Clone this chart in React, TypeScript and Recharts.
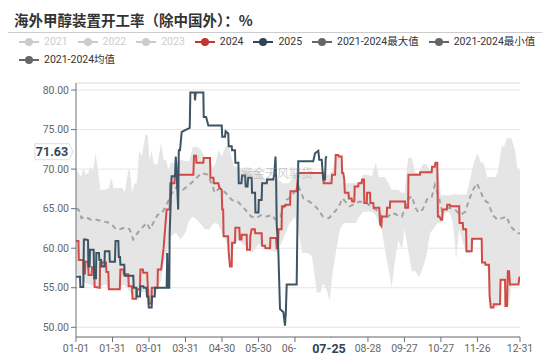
import React from 'react'
import { Area, CartesianGrid, ComposedChart, Line, ReferenceLine, XAxis, YAxis } from 'recharts'

const title = '海外甲醇装置开工率（除中国外）：%'
const legendNames = ['2021', '2022', '2023', '2024', '2025', '2021-2024最大值', '2021-2024最小值', '2021-2024均值']
const legendColors = ['#ccc', '#ccc', '#ccc', '#c23531', '#2f4554', '#666', '#666', '#666']
const legendOff = [true, true, true, false, false, false, false, false]

const tickDays = [0, 30, 60, 90, 120, 150, 180, 210, 240, 270, 300, 330, 365]
const tickLabels = ['01-01', '01-31', '03-01', '03-31', '04-30', '05-30', '06-29', '07-29', '08-28', '09-27', '10-27', '11-26', '12-31']
const yTicks = [50, 55, 60, 65, 70, 75, 80]
const yMin = 48.77
const yMax = 80.89
const dayMax = 365
// hover label of the chart: 2025 last point, its date covers the 07-29 tick
const pointerTick = 210
const pointerDate = '07-25'
const pointerValue = 71.63
const watermark = '紫金天风期货'

// [day of year, rate]
const line2024: [number, number][] = [
  [0, 60.9], [2, 60.9], [2.3, 58.5], [6, 58.5], [6.3, 56.8], [7.4, 56.8], [7.7, 58.3], [10, 58.3], [10.3, 56.6], [12.9, 56.6],
  [13.2, 57.6], [15, 57.6], [15.3, 55.1], [19.5, 55], [19.8, 58.2], [24.7, 58.2], [25, 57], [26.6, 57], [27, 54.8], [36, 54.8],
  [36.5, 57.3], [39, 57.3], [39.3, 56.7], [43, 56.7], [43.3, 55.2], [46, 55.2], [46.5, 53.6], [49.5, 53.6], [50, 54.8], [52.5, 54.8],
  [53, 57.3], [55, 57.3], [55.3, 56.9], [58.5, 56.9], [59, 55.2], [59.8, 53], [62, 53], [62.3, 55], [67, 55], [67.3, 57.3],
  [70, 57.3], [72, 60], [74.5, 64.9], [77, 64.9], [77.5, 68.2], [81, 68.2], [81.3, 69.3], [96.5, 69.3], [97, 71.7], [98.7, 71.7],
  [99, 70.8], [104.7, 70.8], [105, 71.4], [110.2, 71.4], [110.5, 68.9], [113, 68.9], [113.3, 68.2], [117, 68.2], [118, 67.6], [119.8, 67.4],
  [120.2, 64.9], [121, 64.9], [121.3, 61.5], [125, 61.5], [125.5, 59.5], [126.6, 57.7], [128, 57.7], [128.3, 60.7], [130.7, 60.7], [131, 62.6],
  [134.3, 62.6], [134.6, 61.1], [136, 61.1], [136.3, 61.7], [140.3, 61.7], [140.6, 59.8], [143, 59.8], [143.3, 61.5], [144.4, 62.4], [147, 62.4],
  [147.3, 61.9], [152.6, 61.9], [153, 60.3], [155.4, 60.3], [155.7, 60], [159.5, 60], [159.8, 61.3], [164.5, 61.3], [165, 60], [166, 60],
  [166.5, 62.4], [169, 62.4], [169.3, 65.3], [172, 65.3], [172.5, 65.5], [176, 65.5], [176.3, 67.2], [181.4, 67.2], [182.7, 69.5], [203.3, 69.5],
  [203.6, 68.2], [210, 68.2], [210.5, 69.3], [213, 69.3], [213.5, 71.8], [215.6, 71.8], [216, 71.6], [218.4, 71.6], [218.8, 69.5], [219.7, 69.5],
  [220.5, 68.7], [221, 67], [224, 67], [224.3, 66.3], [226.6, 66.3], [227, 65.9], [228.8, 65.9], [229.1, 67.8], [232, 67.8], [232.3, 68.2],
  [234.8, 68.2], [235.2, 68.7], [236.7, 68.7], [237, 65.7], [239, 65.7], [239.3, 67], [241.7, 67], [242, 65.7], [244.4, 65.7], [244.7, 65.1],
  [249.3, 65.1], [250, 63], [251, 62.8], [251.5, 64], [255.4, 64], [255.7, 65.1], [258, 65.1], [258.3, 65.9], [270.5, 65.9], [270.8, 65.1],
  [273, 65.1], [273.3, 69.3], [282.8, 69.3], [283, 69.6], [292.4, 69.6], [292.7, 70.3], [295, 70.3], [295.5, 70.8], [297, 70.8], [297.5, 64],
  [298.7, 64], [300, 63.6], [301, 63.6], [301.5, 64.9], [304.8, 64.9], [305.2, 65.5], [307.3, 65.5], [307.6, 65.3], [315, 65.3], [315.3, 63.2],
  [318, 63.2], [318.3, 62.4], [320.7, 62.4], [321, 59.6], [325.3, 59.6], [325.6, 61.2], [333.5, 61.2], [333.8, 58.2], [336.3, 58.2], [336.6, 57.9],
  [339.5, 57.9], [340, 54], [341, 52.5], [343.1, 52.5], [343.4, 52.9], [348.6, 52.9], [349, 56], [352.7, 56], [353, 52.7], [354.3, 52.7],
  [355, 57.1], [356, 57.1], [356.8, 55.4], [363.7, 55.4], [364.5, 56.3], [365, 56.3],
]

const line2025: [number, number][] = [
  [0, 56.4], [3.3, 56.4], [3.6, 55.1], [6, 55.1], [6.5, 61.1], [8.2, 61.1], [9.9, 61], [10.2, 57.7], [11.2, 57.7], [11.5, 59.8],
  [14.5, 59.8], [15, 56.2], [16.4, 56.2], [16.7, 59.4], [18.9, 59.4], [19.2, 58.5], [20.7, 58.5], [21, 57.7], [23.4, 57.7], [23.7, 59.6],
  [27.5, 59.6], [27.8, 58.3], [32, 58.3], [32.5, 60.9], [34.8, 60.9], [35.2, 58.9], [36.2, 58.9], [36.5, 57.9], [39.7, 57.9], [40, 56.5],
  [47.1, 56.5], [47.5, 55], [49.6, 55], [50, 53.9], [52.6, 53.9], [53, 55.2], [55.4, 55.2], [55.7, 55], [58, 55], [58.3, 53.9],
  [59.5, 53.9], [59.8, 52.5], [62.2, 52.5], [62.5, 53.9], [64.7, 53.9], [65, 55], [74.5, 55], [75, 59.4], [75.5, 55], [76.7, 55],
  [77, 61.9], [78.6, 69.1], [81.4, 69.1], [82, 71.6], [82.5, 70.3], [84, 64.9], [84.5, 72.4], [85.5, 72.4], [86.9, 74.7], [93.5, 75.2],
  [94, 79.7], [97.5, 79.7], [97.8, 78.7], [98.5, 79.7], [104.7, 79.7], [105, 76.6], [107, 76.6], [108.8, 75.5], [119.8, 75.5], [120.2, 74.1],
  [122.5, 74.1], [123, 74.8], [125.2, 74.5], [125.5, 72.9], [128, 72.9], [128.3, 72.4], [130.7, 72.4], [131, 70.8], [133.5, 70.8], [133.8, 68.2],
  [136, 68.2], [136.5, 69.2], [139, 69.2], [139.5, 67.8], [141, 67.8], [141.5, 68.9], [144.4, 68.9], [144.7, 67], [147.2, 67], [147.5, 64.5],
  [150, 64.5], [150.3, 66.1], [152.6, 66.1], [153, 68.2], [156.8, 68.2], [157.1, 68.7], [162.2, 68.7], [163, 69.3], [164, 71.6], [164.5, 69],
  [165, 63], [166.3, 59.8], [167.7, 52.3], [170.5, 51.9], [171.8, 50.2], [172.5, 51.9], [173.2, 55.4], [181.4, 55.4], [182.7, 71], [195, 71],
  [196.5, 72], [199.2, 72.3], [200, 71.2], [202, 71.2], [202.5, 70.1], [203.3, 68.7], [204.7, 68.7], [205.3, 71.4], [206, 71.63],
]

const lineMean: [number, number][] = [
  [0, 65], [2, 64.9], [4.5, 63.8], [7.5, 64], [12, 63.6], [17, 63.6], [22, 63.4], [28, 63.2], [33, 62.4], [36, 62.4],
  [40, 62.6], [44, 62.4], [47, 61.1], [50.5, 61.9], [54.5, 62.6], [58, 63.2], [61, 62.4], [63.5, 63.2], [67, 64.2], [71, 64.5],
  [75, 65.7], [79, 67], [83, 67.8], [88, 67.4], [93, 68], [98, 68.7], [103, 69.5], [108, 69.3], [111.5, 68.2], [114, 67],
  [118, 67.6], [123, 67], [128, 66.1], [133, 65.9], [139, 64.9], [144, 64], [148, 63.8], [152.5, 64.2], [157, 64], [161, 64.2],
  [164, 63.6], [168, 64], [173, 66.1], [177, 66.5], [179, 67], [183, 67.8], [187, 66.3], [192, 65.9], [198, 65.1], [203, 64],
  [208, 63.8], [212, 64.5], [215.5, 65.1], [219, 66.3], [225, 65.3], [233, 65.9], [239, 65.7], [244, 65.1], [248.5, 64.7], [252, 63.8],
  [256.5, 64], [260, 64.5], [264, 64.2], [268, 64], [272.5, 66.1], [276, 66.6], [279, 65.1], [281.5, 64.5], [285, 64.9], [289, 66.3],
  [292.5, 66.5], [295, 68], [298, 66.6], [301, 64.7], [306, 65.1], [311.5, 64.9], [316, 64.2], [320, 64.6], [323, 66.1], [326.5, 67.4],
  [329.5, 68.2], [332, 67.4], [335.5, 66.1], [339, 65.7], [342.5, 64.2], [346.5, 63.6], [350.5, 63.8], [354, 64], [357, 62.8], [359.5, 62.4],
  [363, 61.9], [365, 61.9],
]

const bandDays = [
  0, 2, 4, 6, 8, 10, 12, 14, 16, 18, 20, 24, 27, 29, 31, 35, 38, 40, 42, 44,
  46, 48, 50, 52, 54, 57, 59, 60.5, 62, 64, 67, 70, 72, 74, 76, 78, 82, 86, 90, 93,
  96, 100, 103, 106, 110, 112, 115, 117, 120, 123, 126, 127.5, 130, 134, 138, 141, 145, 150, 155, 160,
  165, 170, 175, 180, 183, 186, 190, 194, 198, 201, 203, 206, 208.5, 211, 214, 217, 220, 225, 230, 233,
  236, 240, 243, 246.5, 249, 251, 254, 257, 259.5, 262, 265, 268, 270, 273, 276, 279, 282, 285, 288, 291,
  294, 297, 300, 304, 307, 310, 312.5, 315, 318, 321, 324, 327, 330, 333, 335, 338, 340, 342, 345, 347,
  350, 352, 354, 356, 358, 361, 363, 365,
]
const bandMax = [
  70.1, 69.5, 69.0, 70.1, 69.3, 69.5, 70.3, 69.8, 72.0, 70.1, 67.4, 67.4, 67.6, 68.9, 67.6, 67.6, 67.6, 67.0, 69.0, 70.3,
  67.0, 68.2, 68.2, 72.4, 71.6, 74.3, 74.3, 71.0, 72.4, 70.6, 70.6, 73.3, 71.2, 71.2, 69.9, 70.8, 70.8, 71.2, 71.0, 71.0,
  72.8, 72.8, 72.4, 71.4, 71.4, 70.1, 70.8, 72.4, 71.6, 72.9, 72.9, 71.6, 70.3, 70.3, 69.8, 69.8, 69.8, 69.8, 68.8, 68.8,
  68.8, 68.2, 68.2, 69.5, 69.5, 69.6, 69.6, 69.6, 69.6, 69.6, 69.6, 69.3, 69.3, 70.0, 71.8, 71.6, 68.2, 68.2, 68.2, 68.2,
  69.3, 69.3, 69.0, 70.8, 69.0, 69.0, 69.0, 68.2, 67.4, 67.4, 67.4, 67.0, 67.0, 71.4, 71.4, 69.5, 69.5, 70.6, 70.6, 69.8,
  70.3, 70.8, 66.7, 66.7, 66.7, 66.8, 66.8, 66.8, 66.8, 66.8, 68.7, 70.8, 72.0, 70.8, 70.8, 69.0, 69.0, 69.0, 69.0, 69.9,
  72.9, 72.9, 73.9, 73.9, 73.9, 72.4, 69.9, 69.9,
]
const bandMin = [
  57, 56.5, 56, 55.8, 55.6, 55.5, 55.3, 55.2, 55, 54.9, 55, 55.5, 54.8, 54.8, 54.7, 54.7, 55.3, 55.3, 55, 54.5,
  54, 53.5, 53.5, 54, 54.5, 54.5, 53.5, 52.9, 52.9, 54, 55, 56, 58, 59, 60, 61.5, 62, 61.1, 62, 63.5,
  64, 63.5, 63, 62.4, 62.4, 63, 63.2, 63, 62, 61, 59.5, 57.7, 60.5, 61, 60.5, 59.8, 59.4, 60.5, 60, 59.8,
  59.5, 61, 63, 64, 62, 59.4, 59.4, 59, 54.4, 54.4, 55.6, 54.8, 53.3, 56.9, 59.8, 62.4, 63.2, 63.2, 63.2, 64,
  64.6, 64.6, 64.6, 64.2, 63.2, 62.6, 59.8, 57.3, 55, 58.2, 61, 59.8, 62.4, 59.8, 57.1, 57.1, 56.3, 57.5, 59, 61.9,
  62.5, 63.2, 63.2, 64.5, 64.5, 63.2, 58.6, 62.4, 60.7, 59.4, 59.4, 61.1, 61.1, 61.1, 58.2, 57.9, 53.5, 52.5, 52.5, 52.7,
  55.8, 55.8, 52.7, 52.7, 55.4, 55.4, 55.4, 55.4,
]

const toRows = (pts: [number, number][]) => pts.map(([day, value]) => ({ day, value }))
const bandRows = bandDays.map((day, i) => ({ day, range: [bandMin[i], bandMax[i]] }))

const font = 'Roboto, "Noto Sans CJK SC", sans-serif'

function DateTick(props: any) {
  const { x, y, payload } = props
  const label = tickLabels[tickDays.indexOf(payload.value)]
  if (payload.value === pointerTick) {
    // the hover date box hides this tick's text and the end of the one before
    return (
      <g>
        <rect x={x - 35} y={y - 6} width={55} height={19} fill="#fff" />
        <text x={x - 2.5} y={y + 4} textAnchor="middle" dominantBaseline="central" fontSize={12.5} fontWeight={700} fill="#2f4554" fontFamily={font}>
          {pointerDate}
        </text>
      </g>
    )
  }
  return (
    <text x={x} y={y + 4} textAnchor="middle" dominantBaseline="central" fontSize={10.5} fill="#666" fontFamily={font}>
      {label}
    </text>
  )
}

function PointerYLabel(props: any) {
  const { x, y } = props.viewBox
  const cy = y - 4.5
  const r = x - 7
  return (
    <g>
      <path d={`M${r - 34},${cy - 8} L${r},${cy - 8} L${r + 4},${cy} L${r},${cy + 8} L${r - 34},${cy + 8} Z`} fill="#fff" stroke="#ddd" />
      <text x={r - 17} y={cy} textAnchor="middle" dominantBaseline="central" fontSize={12.5} fontWeight={700} fill="#2f4554" fontFamily={font}>
        {pointerValue.toFixed(2)}
      </text>
    </g>
  )
}

function LegendItem({ i }: { i: number }) {
  const c = legendColors[i]
  return (
    <div style={{ display: 'flex', alignItems: 'center', marginRight: 10 }}>
      <svg width={20} height={10} style={{ marginRight: 5 }}>
        <line x1={0} y1={5} x2={20} y2={5} stroke={c} strokeWidth={2} />
        <circle cx={10} cy={5} r={4} fill={c} />
      </svg>
      <span style={{ color: legendOff[i] ? '#ccc' : '#333', fontSize: 10.5, lineHeight: '12px', whiteSpace: 'nowrap' }}>{legendNames[i]}</span>
    </div>
  )
}

export default function App() {
  const idx = legendNames.map((_, i) => i)
  return (
    <div style={{ position: 'absolute', left: 0, top: 0, width: 550, height: 356, background: '#fff', fontFamily: font, overflow: 'hidden' }}>
      <div style={{ position: 'absolute', left: 14, top: 11, fontSize: 14.5, fontWeight: 700, color: '#333', fontFamily: '"Noto Sans CJK SC", sans-serif', lineHeight: '18px' }}>
        {title}
      </div>
      <div style={{ position: 'absolute', left: 8, top: 32, width: 534, height: 1, background: '#ccc' }} />
      <div style={{ position: 'absolute', left: 19, top: 36, display: 'flex' }}>
        {idx.slice(0, 7).map((i) => <LegendItem key={i} i={i} />)}
      </div>
      <div style={{ position: 'absolute', left: 19, top: 54, display: 'flex' }}>
        {idx.slice(7).map((i) => <LegendItem key={i} i={i} />)}
      </div>
      <div style={{ position: 'absolute', left: 0, top: 0 }}>
        <ComposedChart width={550} height={356} margin={{ top: 83, right: 30, bottom: 0, left: 0 }}>
          <CartesianGrid vertical={false} stroke="#e6e6e6" />
          <XAxis
            dataKey="day"
            type="number"
            domain={[0, dayMax]}
            ticks={tickDays}
            interval={0}
            height={19}
            tickSize={5}
            tickMargin={2}
            stroke="#6e7079"
            tick={<DateTick />}
            allowDataOverflow
          />
          <YAxis
            type="number"
            domain={[yMin, yMax]}
            ticks={yTicks}
            tickFormatter={(v: number) => v.toFixed(2)}
            width={76}
            tickSize={5}
            tickMargin={2}
            stroke="#6e7079"
            tick={{ fontSize: 10.5, fill: '#666', fontFamily: font }}
            allowDataOverflow
          />
          <ReferenceLine y={yMax} stroke="#e6e6e6" />
          <Area data={bandRows} dataKey="range" type="linear" stroke="none" fill="#e5e5e5" fillOpacity={1} isAnimationActive={false} />
          <Line data={toRows(lineMean)} dataKey="value" type="linear" stroke="#a3a3a3" strokeWidth={2} strokeDasharray="5 4" dot={false} isAnimationActive={false} />
          <Line data={toRows(line2024)} dataKey="value" type="linear" stroke="#d14a45" strokeWidth={2} dot={false} isAnimationActive={false} />
          <Line data={toRows(line2025)} dataKey="value" type="linear" stroke="#3b5466" strokeWidth={2} dot={false} isAnimationActive={false} />
          <ReferenceLine y={pointerValue} stroke="none" label={<PointerYLabel />} />
        </ComposedChart>
      </div>
      <div style={{ position: 'absolute', left: 241, top: 166, fontSize: 12, color: 'rgba(150,150,150,0.45)', fontFamily: '"Noto Sans CJK SC", sans-serif', lineHeight: '14px', pointerEvents: 'none' }}>
        {watermark}
      </div>
    </div>
  )
}
